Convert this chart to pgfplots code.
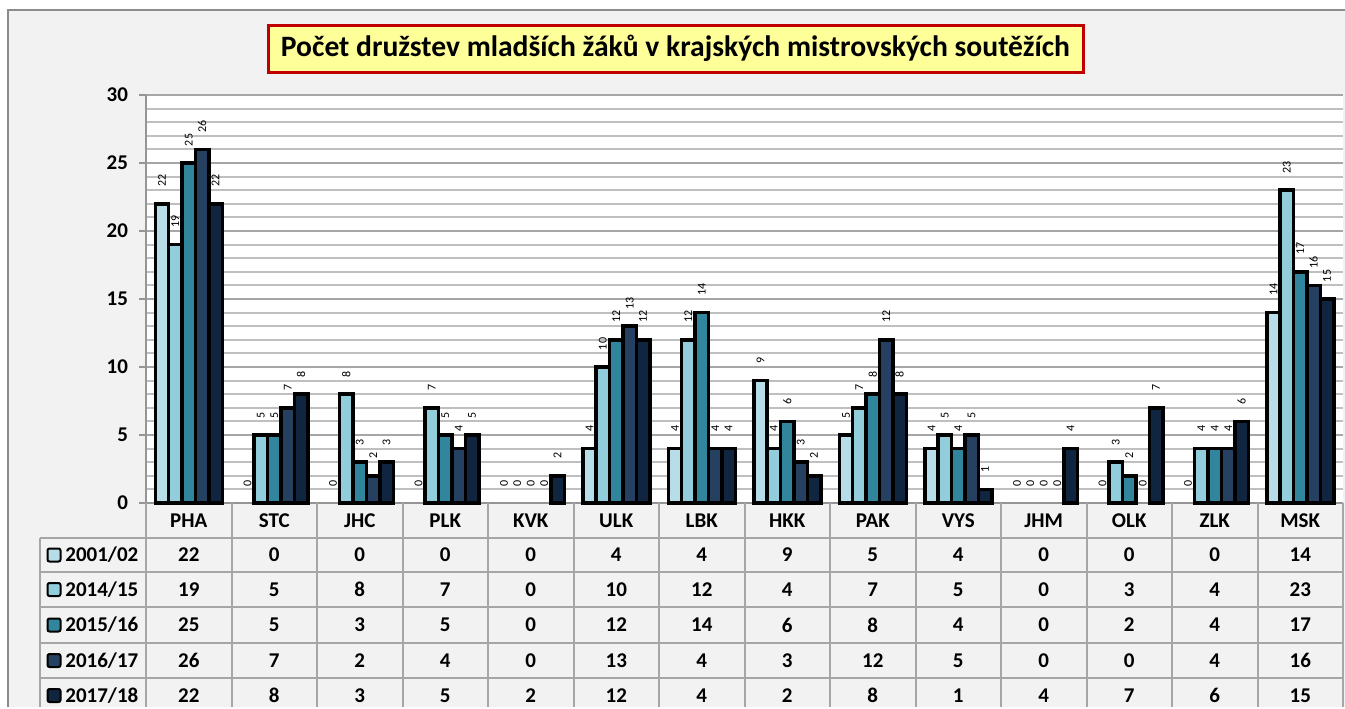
\documentclass[border=0pt]{standalone}
\usepackage{pgfplots}
\pgfplotsset{compat=1.18}
\usepackage{pgfplotstable}
\usepackage{fontspec}
\setmainfont{Carlito}
\definecolor{sA}{HTML}{B7DEE8}
\definecolor{sB}{HTML}{92CDDC}
\definecolor{sC}{HTML}{31859C}
\definecolor{sD}{HTML}{254061}
\definecolor{sE}{HTML}{10253F}
\definecolor{bgc}{HTML}{F2F2F2}
\definecolor{borderc}{HTML}{8C8C8C}
\definecolor{gridmin}{HTML}{BFBFBF}
\definecolor{gridmaj}{HTML}{A6A6A6}
\definecolor{axc}{HTML}{959595}
\definecolor{tablec}{HTML}{A6A6A6}
\definecolor{titlefill}{HTML}{FFFF99}
\definecolor{titlered}{HTML}{C00000}
\pgfplotstableread{
x cat a b c d e
0 PHA 22 19 25 26 22
1 STC 0 5 5 7 8
2 JHC 0 8 3 2 3
3 PLK 0 7 5 4 5
4 KVK 0 0 0 0 2
5 ULK 4 10 12 13 12
6 LBK 4 12 14 4 4
7 HKK 9 4 6 3 2
8 PAK 5 7 8 12 8
9 VYS 4 5 4 5 1
10 JHM 0 0 0 0 4
11 OLK 0 3 2 0 7
12 ZLK 0 4 4 4 6
13 MSK 14 23 17 16 15
}\data
\pgfplotsset{
  barplot/.style={ybar, bar width=6.7pt, bar shift=#1, draw=black, line width=1.75pt,
    y filter/.expression={y==0 ? nan : y}},
  labplot/.style={ybar, bar width=6.7pt, bar shift=0pt, draw=none, fill=none,
    nodes near coords,
    every node near coord/.append style={xshift=#1, rotate=90, anchor=west, font=\fontsize{6}{7}\selectfont, inner xsep=8.3pt, inner ysep=0pt, black}},
}
\begin{document}
\begin{tikzpicture}
\begin{scope}[x=0.5pt,y=-0.5pt]
\path[use as bounding box] (0,0) rectangle (1345,707);
\fill[white] (0,0) rectangle (1345,707);
\fill[bgc] (8,10) rectangle (1345,707);
\draw[borderc, line width=1pt] (8,707) -- (8,10) -- (1345,10);
\end{scope}
\begin{axis}[
  at={(73pt,-251.5pt)}, anchor=south west,
  scale only axis, width=598.5pt, height=204pt,
  xmin=-0.5, xmax=13.5, ymin=0, ymax=30,
  axis background/.style={fill=white},
  xtick=\empty,
  ytick={0,5,...,30},
  minor ytick={1,...,29},
  ymajorgrids, yminorgrids,
  major grid style={draw=gridmaj, line width=1pt},
  minor grid style={draw=gridmin, line width=1pt},
  axis x line*=bottom, axis y line*=left,
  axis line style={draw=axc, line width=1pt, -},
  tick align=outside, major tick length=3.5pt, minor tick length=0pt,
  ytick style={draw=axc, line width=1pt},
  yticklabel style={font=\fontsize{10.5}{12}\selectfont\bfseries, xshift=-2pt},
  /pgf/number format/assume math mode=true,
  clip=false,
]
\addplot[barplot=-13.4pt, fill=sA] table[x=x, y=a] {\data};
\addplot[barplot=-6.7pt, fill=sB] table[x=x, y=b] {\data};
\addplot[barplot=0pt, fill=sC] table[x=x, y=c] {\data};
\addplot[barplot=6.7pt, fill=sD] table[x=x, y=d] {\data};
\addplot[barplot=13.4pt, fill=sE] table[x=x, y=e] {\data};
\addplot[labplot=-13.4pt] table[x=x, y=a] {\data};
\addplot[labplot=-6.7pt] table[x=x, y=b] {\data};
\addplot[labplot=0pt] table[x=x, y=c] {\data};
\addplot[labplot=6.7pt] table[x=x, y=d] {\data};
\addplot[labplot=13.4pt] table[x=x, y=e] {\data};
\end{axis}
\begin{axis}[
  at={(73pt,-251.5pt)}, anchor=north west,
  scale only axis, width=598.5pt, height=102pt,
  xmin=-0.5, xmax=13.5, ymin=0, ymax=204, y dir=reverse,
  hide axis, clip=false,
  only marks, mark=*, mark size=0pt, mark options={draw=none, fill=none},
  nodes near coords, point meta=explicit symbolic,
  every node near coord/.append style={anchor=center, font=\fontsize{10.5}{12}\selectfont\bfseries, black, inner sep=0pt},
]
\addplot table[x=x, y expr=17.5, meta=cat] {\data};
\addplot table[x=x, y expr=52, meta=a] {\data};
\addplot table[x=x, y expr=86.5, meta=b] {\data};
\addplot table[x=x, y expr=122, meta=c] {\data};
\addplot table[x=x, y expr=157.5, meta=d] {\data};
\addplot table[x=x, y expr=192.5, meta=e] {\data};
\end{axis}
\begin{scope}[x=0.5pt,y=-0.5pt]
\foreach \i in {0,...,14} \draw[tablec, line width=1pt] ({146+85.5*\i},503) -- ({146+85.5*\i},707);
\foreach \yy in {538,572,607,643,678} \draw[tablec, line width=1pt] (40,\yy) -- (1343,\yy);
\draw[tablec, line width=1pt] (40,538) -- (40,707);
\begin{scope}[every node/.style={anchor=west, font=\fontsize{10.5}{12}\selectfont\bfseries, inner sep=0pt}]
\draw[black, line width=1pt, fill=sA, rounded corners=1pt] (47.5,548.5) rectangle (60.5,561.5);
\node at (65,555) {2001/02};
\draw[black, line width=1pt, fill=sB, rounded corners=1pt] (47.5,583) rectangle (60.5,596);
\node at (65,589.5) {2014/15};
\draw[black, line width=1pt, fill=sC, rounded corners=1pt] (47.5,618.5) rectangle (60.5,631.5);
\node at (65,625) {2015/16};
\draw[black, line width=1pt, fill=sD, rounded corners=1pt] (47.5,654) rectangle (60.5,667);
\node at (65,660.5) {2016/17};
\draw[black, line width=1pt, fill=sE, rounded corners=1pt] (47.5,689) rectangle (60.5,702);
\node at (65,695.5) {2017/18};
\end{scope}
\node[draw=titlered, line width=1.5pt, fill=titlefill, font=\fontsize{14.8}{17}\selectfont\bfseries, minimum width=407.5pt, minimum height=23.5pt, inner sep=0pt] at (675.5,48.5) {Počet družstev mladších žáků v krajských mistrovských soutěžích};
\end{scope}
\end{tikzpicture}
\end{document}
